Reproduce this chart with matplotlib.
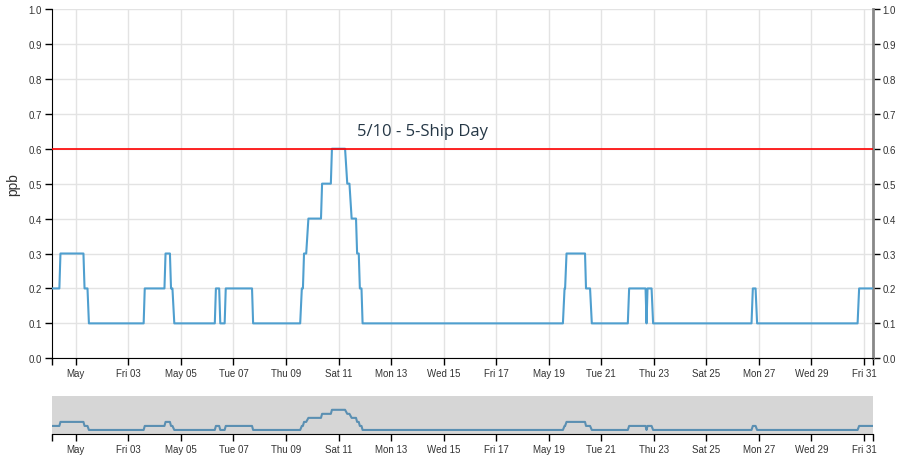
import numpy as np
import pandas as pd
import matplotlib
matplotlib.use("Agg")
import matplotlib.pyplot as plt
import matplotlib.dates as mdates
from matplotlib.ticker import FuncFormatter, FixedLocator

# hours since 2019-05-01 00:00 and ppb readings (vertices of the trace)
hours = [-22, -15, -14, 7, 8, 10.7, 12, 62, 63, 81, 82, 86, 87, 88.3, 90,
         127, 128, 131, 132, 136, 137, 161, 162, 205, 206.5, 207.5, 208.5,
         210.5, 212.5, 224, 225, 233, 234, 246, 248, 250, 252, 256, 257,
         258.5, 259.5, 261, 262, 445, 446.5, 447, 448.3, 465.2, 466.1,
         469.8, 471.4, 504.3, 505.5, 520.5, 521.4, 522.3, 526, 527.4,
         617.3, 618.5, 621, 622.4, 714.2, 715.6, 728]
ppb = [0.2, 0.2, 0.3, 0.3, 0.2, 0.2, 0.1, 0.1, 0.2, 0.2, 0.3, 0.3, 0.2, 0.2, 0.1,
       0.1, 0.2, 0.2, 0.1, 0.1, 0.2, 0.2, 0.1, 0.1, 0.2, 0.2, 0.3,
       0.3, 0.4, 0.4, 0.5, 0.5, 0.6, 0.6, 0.5, 0.5, 0.4, 0.4, 0.3,
       0.3, 0.2, 0.2, 0.1, 0.1, 0.2, 0.2, 0.3, 0.3, 0.2,
       0.2, 0.1, 0.1, 0.2, 0.2, 0.1, 0.2, 0.2, 0.1,
       0.1, 0.2, 0.2, 0.1, 0.1, 0.2, 0.2]
threshold = 0.6
note = "5/10 - 5-Ship Day"
note_hour = 256.5
yticks = [0.0, 0.1, 0.2, 0.3, 0.4, 0.5, 0.6, 0.7, 0.8, 0.9, 1.0]

t0 = pd.Timestamp("2019-05-01")
times = t0 + pd.to_timedelta(hours, unit="h")
x = mdates.date2num(times.to_pydatetime())
xmin, xmax = x[0], x[-1]

plt.rcParams['font.family'] = ['Liberation Sans', 'DejaVu Sans']
txt = '#333333'


def fmt(v, pos=None):
    d = mdates.num2date(v)
    if d.day == 1:
        return d.strftime('%b')
    if d.weekday() == 6:
        return d.strftime('%b %d')
    return d.strftime('%a %d')


major = mdates.DayLocator(bymonthday=range(1, 32, 2))

fig = plt.figure(figsize=(8.99, 4.56), dpi=100)
ax = fig.add_axes([51.7 / 899, (456 - 359.3) / 456, 821 / 899, 349.3 / 456])
ax.plot(x, ppb, color='#4f9fcf', lw=1.5, zorder=3)
ax.axhline(threshold, color='red', lw=1.2, zorder=4)
ax.text(mdates.date2num((t0 + pd.Timedelta(hours=note_hour)).to_pydatetime()), 0.652,
        note, family=['Open Sans', 'DejaVu Sans'], fontsize=12, color='#253746',
        ha='left', va='center')
ax.set_xlim(xmin, xmax)
ax.set_ylim(0, 1.0)
ax.set_yticks(yticks)
ax.yaxis.set_major_formatter(FuncFormatter(lambda v, p: f"{v:.1f}"))
ax.xaxis.set_major_locator(major)
ax.xaxis.set_major_formatter(FuncFormatter(fmt))
ax.xaxis.set_minor_locator(FixedLocator([xmin, xmax]))
ax.grid(True, which='major', color='#e3e3e3', lw=1)
ax.tick_params(axis='x', which='both', length=5, width=1, labelsize=7, colors='black',
               labelcolor=txt, pad=2)
ax.tick_params(axis='y', length=5, width=1, labelsize=7, labelcolor=txt,
               left=True, right=True, labelleft=True, labelright=True, pad=2)
ax.spines['top'].set_visible(False)
ax.spines['left'].set_color('black')
ax.spines['bottom'].set_color('black')
ax.spines['right'].set_color('#888888')
ax.spines['right'].set_linewidth(2)
ax.set_ylabel('ppb', fontsize=10, color=txt, labelpad=6)

# navigator
nav = fig.add_axes([51.7 / 899, (456 - 435) / 456, 821 / 899, 38.3 / 456])
nav.set_facecolor('#d6d6d6')
nav.plot(x, ppb, color='#5a8fb2', lw=1.5)
nav.set_xlim(xmin, xmax)
nav.set_ylim(0, 0.95)
nav.set_yticks([])
nav.xaxis.set_major_locator(major)
nav.xaxis.set_major_formatter(FuncFormatter(fmt))
nav.xaxis.set_minor_locator(FixedLocator([xmin, xmax]))
nav.tick_params(axis='x', which='both', length=5, width=1, labelsize=7,
                labelcolor=txt, pad=2)
for s in ['top', 'left', 'right']:
    nav.spines[s].set_visible(False)
nav.spines['bottom'].set_color('black')

fig.savefig('out.png', dpi=100)
